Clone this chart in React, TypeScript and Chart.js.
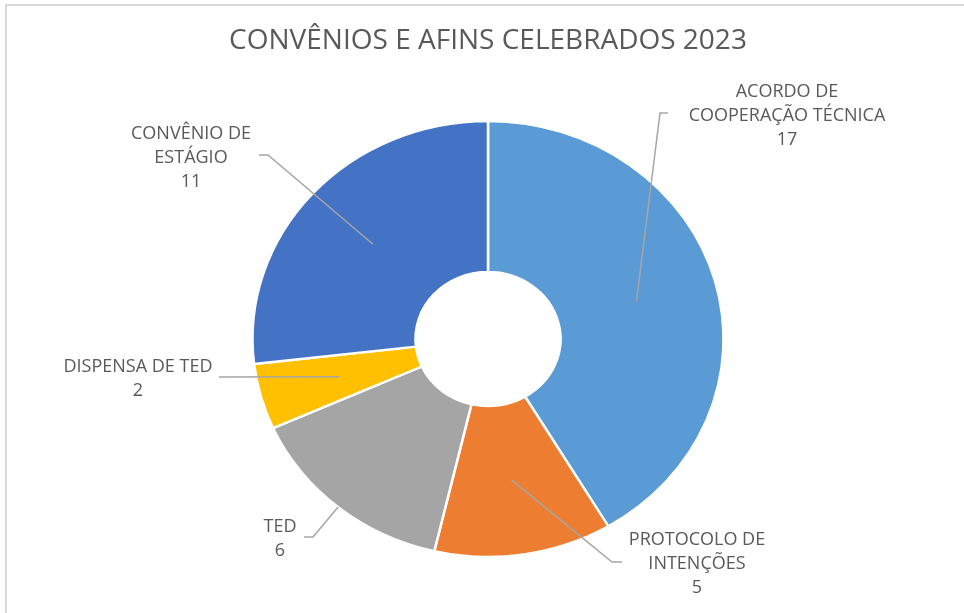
import React, { useEffect, useRef } from "react";
import { Chart, registerables } from "chart.js";

Chart.register(...registerables);

const TITLE = "CONVÊNIOS E AFINS CELEBRADOS 2023";
const categories: string[][] = [
  ["ACORDO DE", "COOPERAÇÃO TÉCNICA"],
  ["PROTOCOLO DE", "INTENÇÕES"],
  ["TED"],
  ["DISPENSA DE TED"],
  ["CONVÊNIO DE", "ESTÁGIO"],
];
const values: number[] = [17, 5, 6, 2, 11];
const colors: string[] = ["#5B9BD5", "#ED7D31", "#A5A5A5", "#FFC000", "#4472C4"];

// label placement relative to chart centre (block centre, elbow, tick length, anchor radius)
const labelLayout = [
  { bx: 299, by: -223, ex: 172, ey: -226, tick: 8, anchor: "mid" },
  { bx: 209, by: 224.5, ex: 124, ey: 223, tick: 10, anchor: "mid" },
  { bx: -208, by: 199.5, ex: -175, ey: 198, tick: -9, anchor: "outer" },
  { bx: -350, by: 40, ex: -269, ey: 38, tick: 0, anchor: "mid" },
  { bx: -297, by: -181.5, ex: -220, ey: -184, tick: -9, anchor: "mid" },
];

const SQUASH = 0.925;
const TEXT = "#595959";
const FONT = "'Open Sans', 'Noto Sans', sans-serif";

const framePlugin = {
  id: "frame",
  beforeDraw(chart: any) {
    const ctx = chart.ctx;
    ctx.save();
    ctx.fillStyle = "#ffffff";
    ctx.fillRect(0, 0, chart.width, chart.height);
    ctx.fillStyle = "#d9d9d9";
    ctx.fillRect(5, 4, chart.width - 5, 2);
    ctx.fillRect(5, 4, 2, chart.height - 4);
    ctx.restore();
  },
};

const squashPlugin = {
  id: "squash",
  beforeDatasetsDraw(chart: any) {
    const meta = chart.getDatasetMeta(0);
    const arc = meta.data[0];
    const cy = arc.y;
    const ctx = chart.ctx;
    ctx.save();
    ctx.translate(0, cy);
    ctx.scale(1, SQUASH);
    ctx.translate(0, -cy);
  },
  afterDatasetsDraw(chart: any) {
    chart.ctx.restore();
  },
};

const labelPlugin = {
  id: "sliceLabels",
  afterDatasetsDraw(chart: any) {
    const ctx = chart.ctx;
    const meta = chart.getDatasetMeta(0);
    ctx.save();
    meta.data.forEach((arc: any, i: number) => {
      const L = labelLayout[i];
      const cx = arc.x;
      const cy = arc.y;
      const mid = (arc.startAngle + arc.endAngle) / 2;
      const r =
        L.anchor === "outer" ? arc.outerRadius : (arc.innerRadius + arc.outerRadius) / 2;
      const ax = cx + r * Math.cos(mid);
      const ay = cy + r * Math.sin(mid) * SQUASH;
      // leader line
      ctx.strokeStyle = "#A6A6A6";
      ctx.lineWidth = 1.5;
      ctx.beginPath();
      ctx.moveTo(ax, ay);
      ctx.lineTo(cx + L.ex, cy + L.ey);
      if (L.tick !== 0) ctx.lineTo(cx + L.ex + L.tick, cy + L.ey);
      ctx.stroke();
      // text
      const lines = [...categories[i], String(values[i])];
      ctx.fillStyle = TEXT;
      ctx.font = `18px ${FONT}`;
      ctx.textAlign = "center";
      ctx.textBaseline = "middle";
      const lh = 24;
      lines.forEach((t, k) => {
        ctx.fillText(t, cx + L.bx, cy + L.by + (k - (lines.length - 1) / 2) * lh);
      });
    });
    ctx.restore();
  },
};

export default function App() {
  const ref = useRef<HTMLCanvasElement | null>(null);
  useEffect(() => {
    if (!ref.current) return;
    const chart = new Chart(ref.current, {
      type: "doughnut",
      data: {
        labels: categories,
        datasets: [
          {
            data: values,
            backgroundColor: colors,
            borderColor: "#ffffff",
            borderWidth: 2.5,
          },
        ],
      },
      options: {
        responsive: false,
        animation: false,
        radius: 235.5,
        cutout: "30.8%",
        layout: { padding: { left: 12, right: 0, top: 0, bottom: 0 } },
        plugins: {
          legend: { display: false },
          tooltip: { enabled: false },
          title: {
            display: true,
            text: TITLE,
            color: TEXT,
            font: { family: FONT, size: 28, weight: "normal" as any, lineHeight: 1.2 },
            padding: { top: 24.2, bottom: 7.2 },
          },
        },
      } as any,
      plugins: [framePlugin, squashPlugin, labelPlugin],
    });
    return () => chart.destroy();
  }, []);
  return (
    <div style={{ position: "fixed", left: 0, top: 0, width: 964, height: 613 }}>
      <canvas ref={ref} width={964} height={613} style={{ width: 964, height: 613, display: "block" }} />
    </div>
  );
}
